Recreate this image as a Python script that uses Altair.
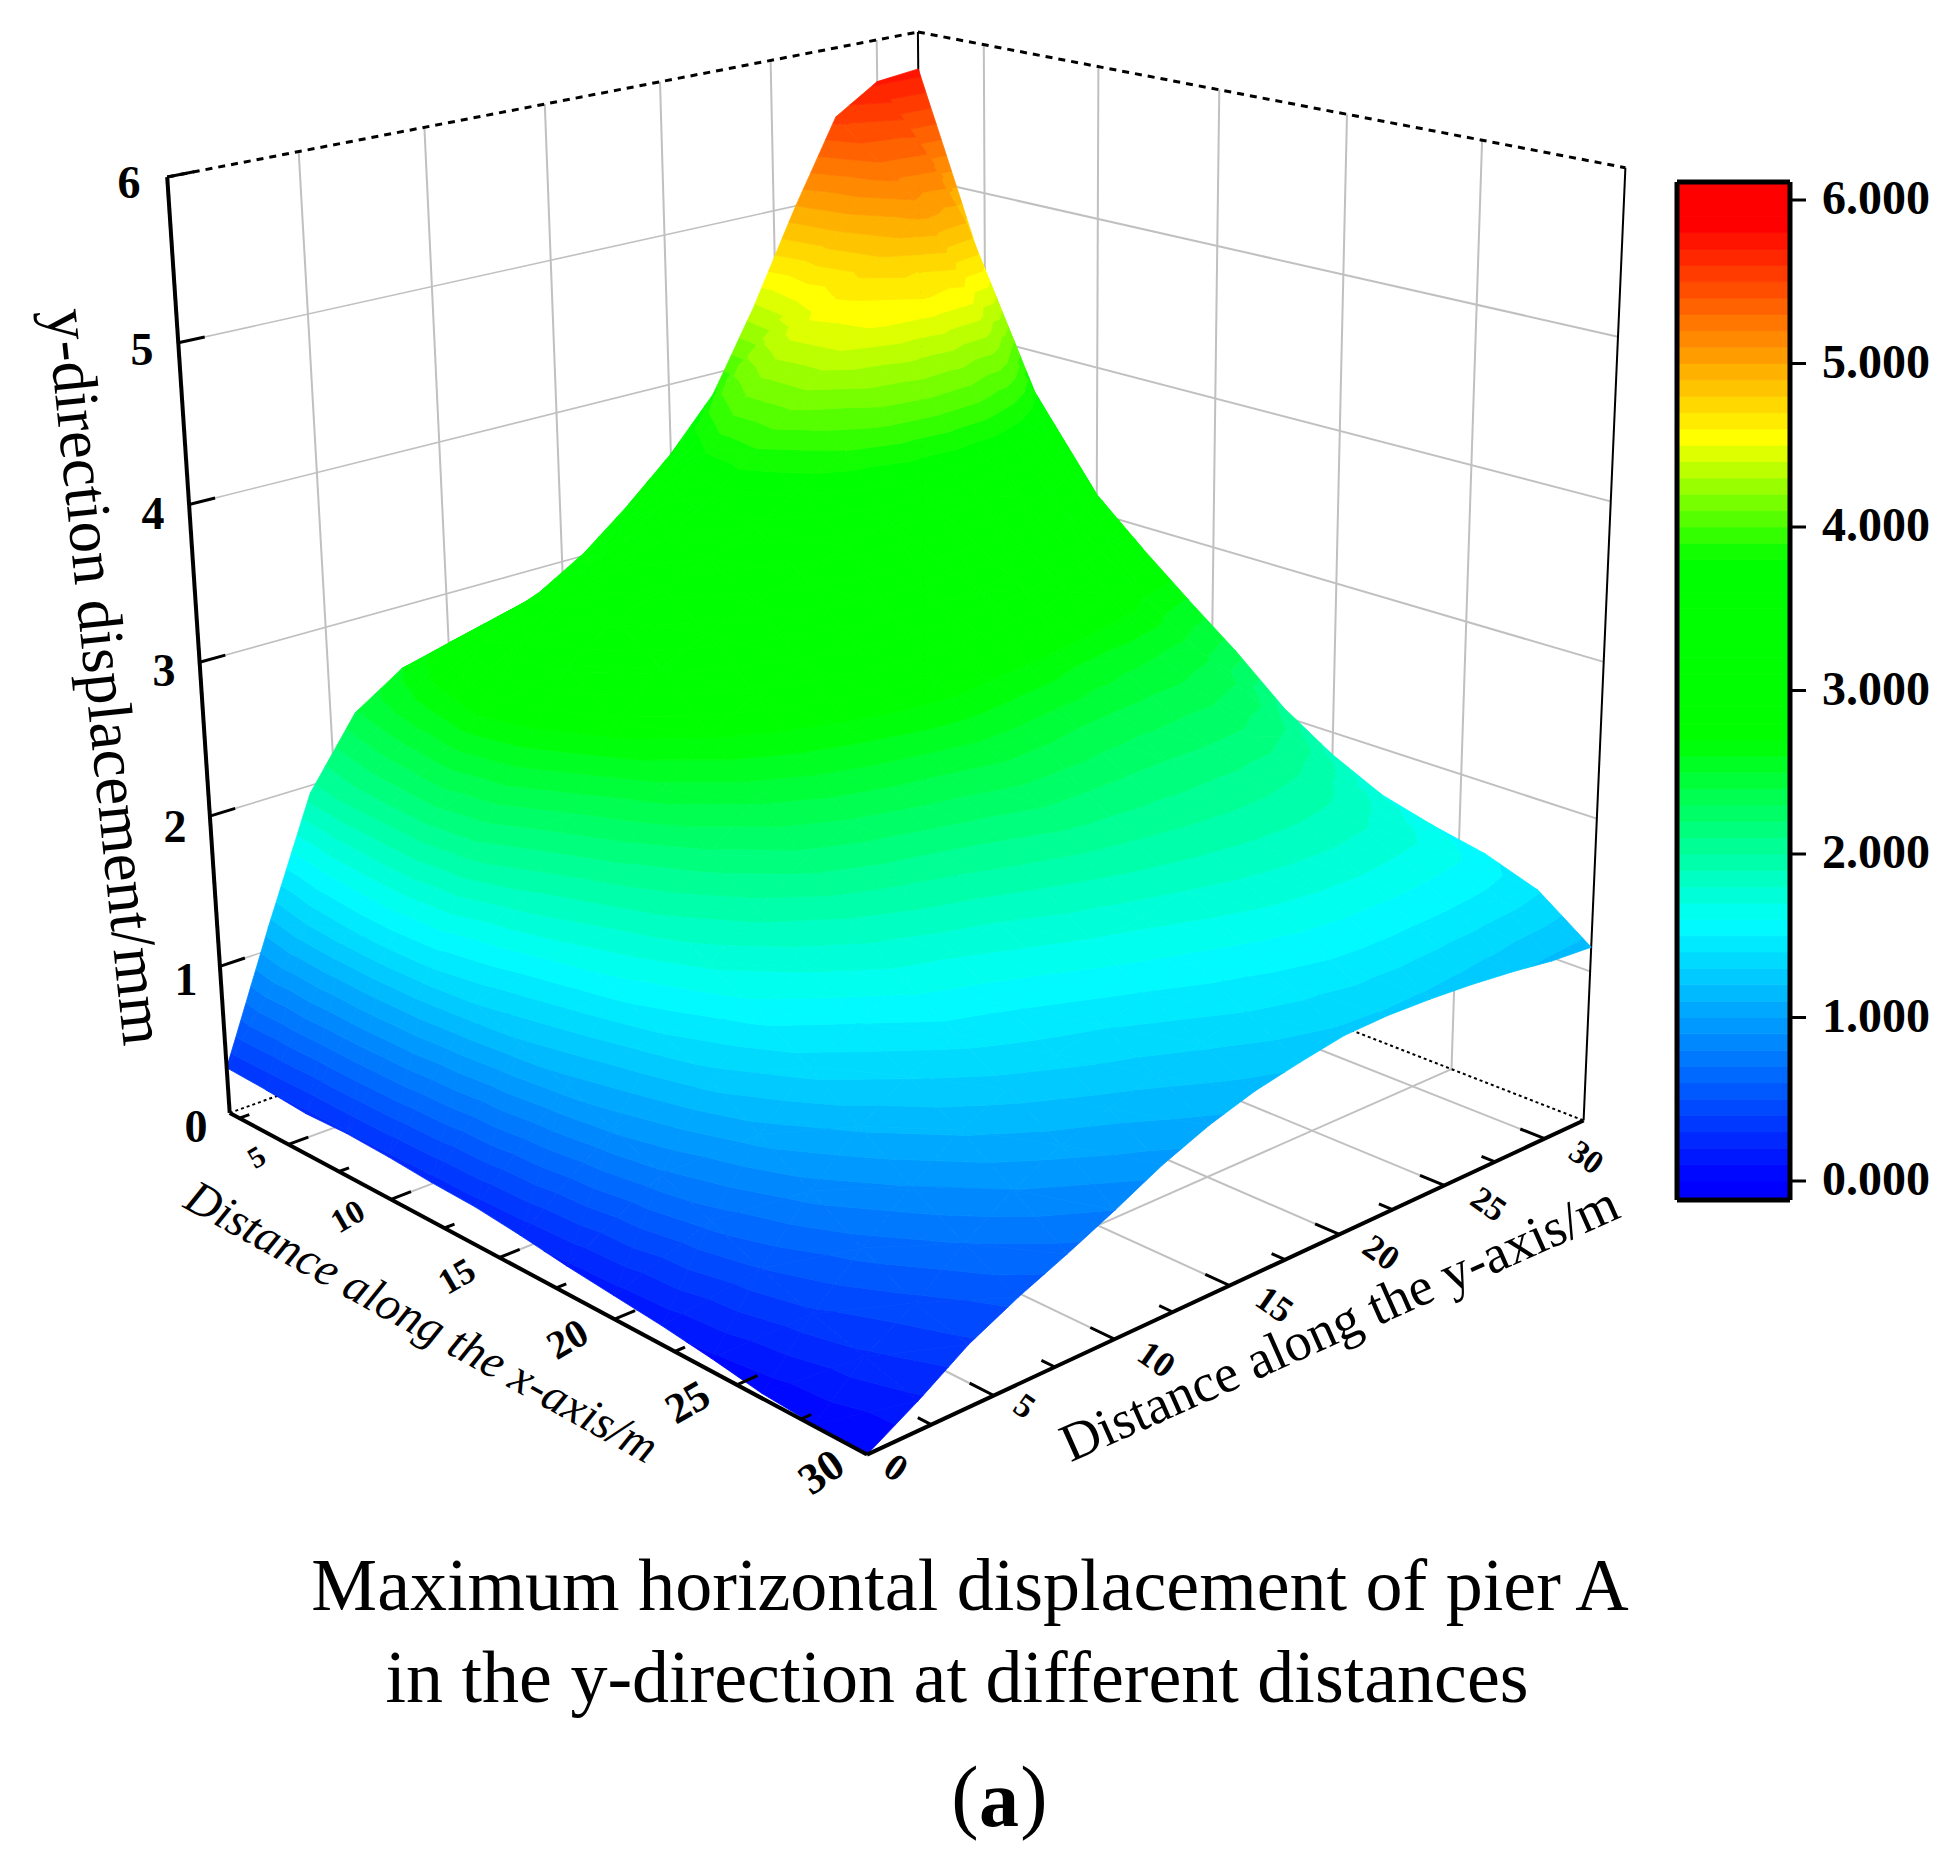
import numpy as np
import pandas as pd
import altair as alt

# Surface: rows are x = 2..30, columns y = 0..32, z in 0.01 mm
x_values = list(range(2, 31, 2))
y_values = list(range(0, 33, 2))
z_rows = [
 [31,115,195,239,259,267,272,284,302,326,353,386,439,499,554,572,575],
 [30,130,205,250,277,291,299,311,331,359,392,425,450,490,530,535,488],
 [28,138,210,260,296,313,323,336,355,383,415,445,462,480,505,490,400],
 [29,142,215,270,309,326,337,348,365,388,415,441,455,460,454,409,346],
 [28,140,208,258,303,323,334,345,357,373,390,405,411,407,387,351,313],
 [26,130,185,228,277,303,316,326,336,345,352,356,354,345,328,305,285],
 [25,118,168,207,246,272,287,298,306,310,310,308,301,291,281,267,259],
 [22,105,155,190,218,242,257,266,274,276,272,268,261,255,251,245,234],
 [18,92,140,172,195,216,228,236,241,246,244,240,237,235,234,227,206],
 [15,78,125,155,172,187,198,205,213,221,221,220,219,219,217,207,185],
 [12,64,105,135,150,165,172,180,189,196,200,202,203,202,198,187,169],
 [8,50,85,112,131,145,152,160,168,174,180,184,186,186,183,174,160],
 [3,38,65,90,112,125,135,141,149,156,162,167,169,169,167,164,153],
 [1,28,47,70,90,105,115,124,132,140,145,149,150,149,148,146,141],
 [0,18,38,53,66,80,95,107,116,122,127,128,127,125,122,118,116],
]
cbar_ticks = [0, 1, 2, 3, 4, 5, 6]
cbar_labels = ["0.000", "1.000", "2.000", "3.000", "4.000", "5.000", "6.000"]
color_stops = [0, 1.58, 2.7, 3.8, 4.55, 5.85]
color_range = ["#0000ff", "#00ffff", "#00ff00", "#00ff00", "#ffff00", "#ff0000"]

# Camera fitted to the corners and ticks of the 3-D box
camera_refs = [((2,0,0),(228,1114)),((2,0,6),(165,174)),((2,0,3),(200,659)),((30,0,0),(864,1455)),
 ((30,32,0),(1588,1120)),((30,32,6),(1625,169)),((2,32,6),(920,35)),((2,32,0),(920,862)),
 ((5,0,0),(291,1147)),((10,0,0),(395,1202)),((15,0,0),(502,1258)),((20,0,0),(620,1320)),
 ((30,5,0),(983,1393)),((30,15,0),(1230,1285)),((30,25,0),(1444,1186)),((30,30,0),(1547,1138))]
A = []
for (X, Y, Z), (u, v) in camera_refs:
    A.append([X,Y,Z,1,0,0,0,0,-u*X,-u*Y,-u*Z,-u])
    A.append([0,0,0,0,X,Y,Z,1,-v*X,-v*Y,-v*Z,-v])
P = np.linalg.svd(np.array(A, float))[2][-1].reshape(3, 4)

def proj(p):
    w = P @ np.array([p[0], p[1], p[2], 1.0])
    return [round(float(w[0]/w[2]), 1), round(float(w[1]/w[2]), 1)]

def line(a, b):
    return {"type": "Feature", "properties": {}, "geometry": {"type": "LineString", "coordinates": [proj(a), proj(b)]}}

def clip(poly, level, keep_above):
    out = []
    n = len(poly)
    for i in range(n):
        a, b = poly[i], poly[(i+1) % n]
        ia = a[2] >= level if keep_above else a[2] <= level
        ib = b[2] >= level if keep_above else b[2] <= level
        if ia:
            out.append(a)
        if ia != ib:
            t = (level - a[2]) / (b[2] - a[2])
            out.append(tuple(a[k] + t*(b[k]-a[k]) for k in range(3)))
    return out

Z = np.array(z_rows) / 100.0
band = 0.1
surface = []
for i in range(len(x_values)-1):
    for j in range(len(y_values)-1, 0, -1):
        c = lambda a, b: (float(x_values[a]), float(y_values[b]), float(Z[a, b]))
        for tri in ([c(i,j), c(i,j-1), c(i+1,j)], [c(i,j-1), c(i+1,j-1), c(i+1,j)]):
            lo = int(np.floor(min(t[2] for t in tri)/band))
            hi = int(np.ceil(max(t[2] for t in tri)/band))
            for k in range(lo, hi):
                poly = clip(tri, k*band, True)
                poly = clip(poly, (k+1)*band, False) if poly else []
                if len(poly) >= 3:
                    ring = [proj(p) for p in poly]
                    ring.append(ring[0])
                    surface.append({"type": "Feature", "properties": {"v": (k+0.5)*band},
                                    "geometry": {"type": "Polygon", "coordinates": [ring]}})

# Colour bar bands
def cb_y(z):
    return 1181 - 163.5*z
cbar_x0, cbar_x1 = 1677, 1790
cbar = []
for k in range(-2, 62):
    a, b = max(k*band, -0.116), min((k+1)*band, 6.11)
    ring = [[cbar_x0, cb_y(a)], [cbar_x1, cb_y(a)], [cbar_x1, cb_y(b)], [cbar_x0, cb_y(b)], [cbar_x0, cb_y(a)]]
    cbar.append({"type": "Feature", "properties": {"v": (k+0.5)*band}, "geometry": {"type": "Polygon", "coordinates": [ring]}})

def pix(a, b):
    return {"type": "Feature", "properties": {}, "geometry": {"type": "LineString", "coordinates": [a, b]}}

x0, x1, y1, zt = 2, 30, 32, 6
grey_thin = []
grey = []
for z in range(1, 6):
    grey_thin.append(line((x0,0,z),(x0,y1,z)))
    grey.append(line((x0,y1,z),(x1,y1,z)))
for y in range(5, 31, 5):
    grey.append(line((x0,y,0),(x0,y,zt)))
    grey.append(line((x0,y,0),(x1,y,0)))
for x in range(5, 26, 5):
    grey.append(line((x,y1,0),(x,y1,zt)))
    grey.append(line((x,0,0),(x,y1,0)))

dash_top = [line((x0,0,zt),(x0,y1,zt)), line((x0,y1,zt),(x1,y1,zt))]
dot_floor = [line((x0,0,0),(x0,y1,0)), line((x0,y1,0),(x1,y1,0))]
thin_black = [line((x0,y1,0),(x0,y1,zt)), line((x1,y1,0),(x1,y1,zt))]
thick_black = [line((x0,0,0),(x0,0,zt)), line((x0,0,0),(x1,0,0)), line((x1,0,0),(x1,y1,0))]
ticks = []
for z in range(1, 7):
    ticks.append(line((x0,0,z),(x0,1,z)))
for x in [2.5,5,7.5,10,12.5,15,17.5,20,22.5,25,27.5]:
    ticks.append(line((x,0,0),(x,0.8 if x % 5 == 0 else 0.4,0)))
for y in [2.5,5,7.5,10,12.5,15,17.5,20,22.5,25,27.5,30]:
    ticks.append(line((x1,y,0),(x1-(0.9 if y % 5 == 0 else 0.5),y,0)))
cbar_ticks_f = [pix([cbar_x1, cb_y(t)], [1806, cb_y(t)]) for t in cbar_ticks]
cbar_frame = [pix([cbar_x0,cb_y(-0.116)],[cbar_x1,cb_y(-0.116)]), pix([cbar_x1,cb_y(-0.116)],[cbar_x1,cb_y(6.11)]),
              pix([cbar_x1,cb_y(6.11)],[cbar_x0,cb_y(6.11)]), pix([cbar_x0,cb_y(6.11)],[cbar_x0,cb_y(-0.116)])]

def geo(features):
    return alt.Data(values={"type": "FeatureCollection", "features": features},
                    format=alt.DataFormat(type="json", property="features"))

def strokes(features, color, width, dash=None):
    kw = {"strokeDash": dash} if dash else {}
    return alt.Chart(geo(features)).mark_geoshape(filled=False, stroke=color, strokeWidth=width, **kw)

scale = alt.Scale(domain=color_stops, range=color_range, interpolate="rgb", clamp=True)
def filled(features):
    return alt.Chart(geo(features)).mark_geoshape(strokeWidth=0.8).encode(
        color=alt.Color("properties.v:Q", scale=scale, legend=None),
        stroke=alt.Stroke("properties.v:Q", scale=scale, legend=None))

bold_text = [
 ("6",129,184,0,46),("5",142,351,0,46),("4",153,515,0,46),("3",164,672,0,46),("2",175,828,0,46),("1",186,981,0,46),("0",196,1128,0,46),
 ("5",257,1158,330,30),("10",348,1217,330,33),("15",457,1277,330,36),("20",568,1340,330,40),("25",688,1403,330,43),
 ("30",822,1473,325,44),("0",895,1469,35,38),
 ("5",1024,1407,35,34),("10",1156,1360,35,36),("15",1274,1305,35,36),("20",1381,1253,35,35),("25",1488,1205,35,34),("30",1586,1158,35,33),
 ("a",999,1802,0,80),
]
bold_text += [(l,1876,cb_y(t),0,48) for l,t in zip(cbar_labels,cbar_ticks)]
regular_text = [
 ("y-direction displacement/mm",104,677,84,63),
 ("Distance along the y-axis/m",1340,1325,336,54),
 ("Maximum horizontal displacement of pier A",970,1588,0,74),
 ("in the y-direction at different distances",957,1680,0,74),
 ("(",965,1798,0,82),(")",1034,1798,0,82),
]
italic_text = [("Distance along the x-axis/m",421,1323,29,47.5)]

def text_layer(rows, **kw):
    df = pd.DataFrame(rows, columns=["t","lon","lat","a","s"])
    return alt.Chart(df).mark_text(font="Liberation Serif", color="black", align="center", baseline="middle", **kw).encode(
        longitude="lon:Q", latitude="lat:Q", text="t:N",
        angle=alt.Angle("a:Q", scale=None), size=alt.Size("s:Q", scale=None))

chart = alt.layer(
    strokes(grey, "#c0c0c0", 2),
    strokes(grey_thin, "#c0c0c0", 1.6),
    strokes(dash_top, "black", 3, [7,6]),
    strokes(dot_floor, "black", 2, [3,3]),
    strokes(thin_black, "black", 2),
    filled(surface),
    strokes(thick_black, "black", 4),
    strokes(ticks, "black", 3),
    filled(cbar),
    strokes(cbar_frame, "black", 5),
    strokes(cbar_ticks_f, "black", 3),
    text_layer(bold_text, fontWeight="bold"),
    text_layer(regular_text),
    text_layer(italic_text, fontStyle="italic"),
).project(type="identity", scale=1, translate=[-8, -8]).properties(
    width=1942, height=1859, padding=0, autosize=alt.AutoSizeParams(type="none"), background="white"
).configure_view(stroke=None)

chart.save("out.html", embed_options={"renderer": "svg", "actions": False})
